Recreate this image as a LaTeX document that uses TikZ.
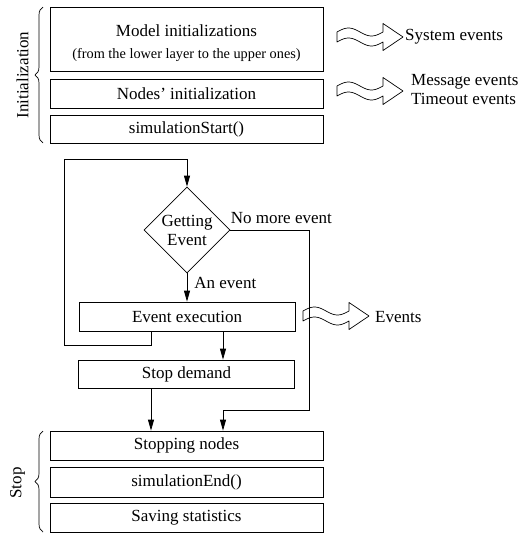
\documentclass[tikz,border=0pt]{standalone}
\usepackage{fontspec}
\setmainfont{Liberation Serif}
\usetikzlibrary{arrows.meta,shapes.geometric,decorations.pathreplacing}

\newcommand\figfont{\fontsize{17pt}{19pt}\selectfont}
\newcommand\figsmall{\fontsize{14.3pt}{16pt}\selectfont}

\tikzset{
  stepbox/.style={draw, line width=0.8pt, inner sep=0pt, minimum width=273pt,
    minimum height=29pt, font=\figfont, align=center},
  loopbox/.style={stepbox, minimum width=216pt},
  decision/.style={draw, diamond, line width=0.8pt, inner sep=0pt,
    minimum width=86pt, minimum height=86pt, font=\figfont, align=center},
  conn/.style={line width=0.8pt, -{Triangle[length=11pt,width=6pt]}},
  lbl/.style={inner sep=0pt, font=\figfont},
  phase/.style={decorate, decoration={brace, amplitude=8pt}, line width=0.7pt},
  wavearrow/.pic={
    \draw[line width=0.7pt, line join=round]
      plot[smooth, domain=0:46, samples=25] (\x,{5+4*sin(\x/46*360)})
      -- (46,13.5) -- (66,0) -- (46,-13.5)
      -- plot[smooth, domain=46:0, samples=25] (\x,{-5+4*sin(\x/46*360)})
      -- cycle;
  }
}

\begin{document}
\begin{tikzpicture}[x=1pt,y=1pt]
\useasboundingbox (0,0) rectangle (519,-533);

% initialization phase
\node[stepbox, minimum height=64pt] (m1) at (186.5,-39) {};
\node[lbl, align=center] (m1t) at (186.5,-43)
  {Model initializations\\[3pt]{\figsmall (from the lower layer to the upper ones)}};
\node[stepbox] (m2) at (186.5,-93.5) {Nodes’ initialization};
\node[stepbox, minimum height=28pt] (m3) at (186.5,-129) {simulationStart()};

\draw[phase] (43,-143) -- (43,-7);
\node[lbl, rotate=90] (init) at (22.5,-75) {Initialization};

% generated events
\pic at (337,-37) {wavearrow};
\node[lbl, anchor=west] (sysev) at (405,-37) {System events};
\pic at (337,-91) {wavearrow};
\node[lbl, anchor=west, align=left] (msgev) at (411,-89.5)
  {Message events\\Timeout events};

% main event loop
\node[decision] (d) at (187,-230) {Getting\\Event};
\node[loopbox] (ee) at (187,-316.5) {Event execution};
\node[loopbox, minimum height=28pt] (sd) at (186.5,-374) {Stop demand};

\pic at (303,-316) {wavearrow};
\node[lbl, anchor=west] (ev) at (375,-317) {Events};

% stop phase
\node[stepbox] (s1) at (186.5,-445.5) {Stopping nodes};
\node[stepbox, minimum height=30pt] (s2) at (186.5,-482) {simulationEnd()};
\node[stepbox] (s3) at (186.5,-517.5) {Saving statistics};

\draw[phase] (43,-532) -- (43,-431);
\node[lbl, rotate=90] (stop) at (17.5,-483) {Stop};

% routing helpers
\coordinate (xl) at (151,0);
\coordinate (xr) at (223,0);
\coordinate (lb) at (64,-345);
\coordinate (lt) at (64,-159);
\coordinate (nr) at (309,-410);

% connectors
\draw[conn] (xl |- ee.south) |- (lb) -- (lt) -| (d.north);
\draw[conn] (d.south) -- node[lbl, pos=0.35, anchor=west, xshift=7pt] {An event} (ee.north);
\draw[conn] (d.east) -| node[lbl, pos=0, anchor=west, yshift=12pt] {No more event}
  (nr) -| (xr |- s1.north);
\draw[conn] (xr |- ee.south) -- (xr |- sd.north);
\draw[conn] (xl |- sd.south) -- (xl |- s1.north);
\end{tikzpicture}
\end{document}
